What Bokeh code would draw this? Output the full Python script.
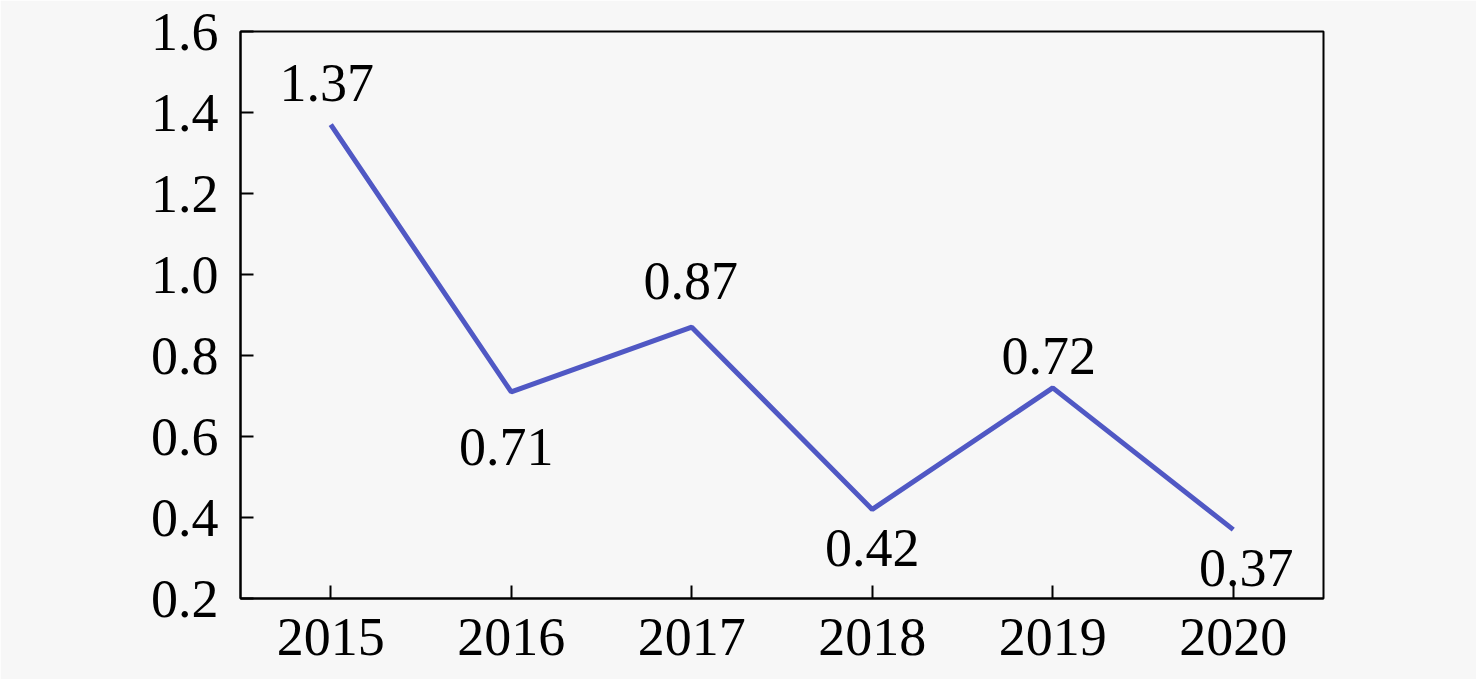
from bokeh.plotting import figure
from bokeh.models import ColumnDataSource, FixedTicker, PrintfTickFormatter, Range1d, FactorRange
from bokeh.core.properties import value
from bokeh.embed import file_html
from bokeh.resources import INLINE

years = ["2015", "2016", "2017", "2018", "2019", "2020"]
values = [1.37, 0.71, 0.87, 0.42, 0.72, 0.37]
labels = ["1.37", "0.71", "0.87", "0.42", "0.72", "0.37"]
y_ticks = [0.2, 0.4, 0.6, 0.8, 1.0, 1.2, 1.4, 1.6]

# label placement (screen px)
lab_dx = [-4, -5, -1, 0, -4, 13]
lab_dy = [-42, 55, -46, 39, -32, 38]

FONT = "Liberation Serif"
BG = "#f7f7f7"

p = figure(width=1476, height=679, x_range=FactorRange(*years), y_range=Range1d(0.2, 1.6),
           output_backend="svg", toolbar_location=None,
           min_border_left=240, min_border_top=31, min_border_right=153, min_border_bottom=81)
p.background_fill_color = BG
p.border_fill_color = BG
p.outline_line_color = "black"
p.outline_line_width = 2
p.grid.visible = False
p.x_range.range_padding = 0

src = ColumnDataSource(dict(x=years, y=values, t=labels, dx=lab_dx, dy=lab_dy))
p.line("x", "y", source=src, line_color="#5058c4", line_width=5)
p.text("x", "y", text="t", source=src, x_offset="dx", y_offset="dy",
       text_align="center", text_baseline="middle",
       text_font=value(FONT), text_font_size="54px", text_color="black")

for ax in (p.xaxis[0], p.yaxis[0]):
    ax.axis_line_color = "black"
    ax.axis_line_width = 2
    ax.major_tick_line_color = "black"
    ax.major_tick_line_width = 2
    ax.major_tick_out = 0
    ax.major_tick_in = 13
    ax.minor_tick_line_color = None
    ax.major_label_text_font = FONT
    ax.major_label_text_font_size = "54px"
    ax.major_label_text_color = "black"

p.yaxis.ticker = FixedTicker(ticks=y_ticks)
p.yaxis.formatter = PrintfTickFormatter(format="%.1f")
p.yaxis.major_label_standoff = 22
p.xaxis.major_label_standoff = 20

open("out.html", "w").write(file_html(p, INLINE))
